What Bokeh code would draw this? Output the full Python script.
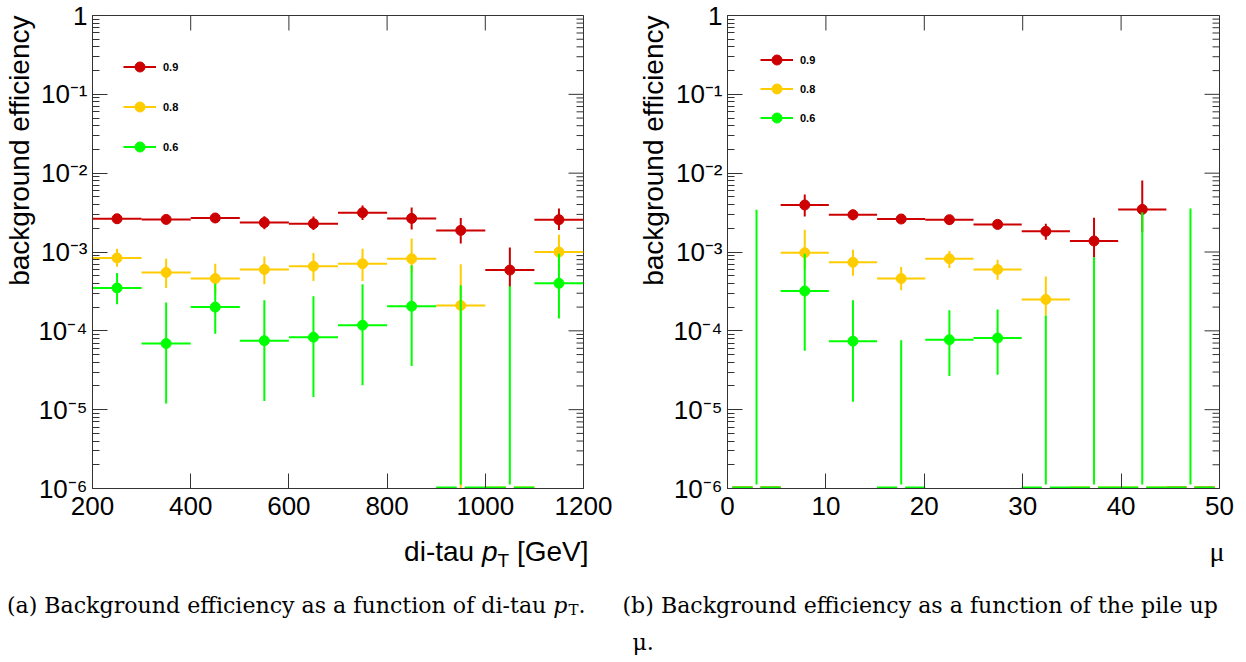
import math
from bokeh.plotting import figure
from bokeh.models import Range1d, FixedTicker, Legend, LegendItem, Title
from bokeh.core.properties import value
from bokeh.layouts import row, column
from bokeh.embed import file_html
from bokeh.resources import INLINE

# ---------------- data ----------------
pt_bin_edges = [200, 300, 400, 500, 600, 700, 800, 900, 1000, 1100, 1200]
mu_bin_edges = [0.5, 5.4, 10.3, 15.2, 20.1, 25.0, 29.9, 34.8, 39.7, 44.6, 49.5]

series_labels = ["0.9", "0.8", "0.6"]
series_colors = ["#cc0000", "#ffcc00", "#00ff00"]

# background efficiency vs di-tau pT (value, lower edge, upper edge of error bar)
eff09_pt = [2.64e-3, 2.59e-3, 2.70e-3, 2.36e-3, 2.29e-3, 3.15e-3, 2.67e-3, 1.88e-3, 5.9e-4, 2.57e-3]
eff09_pt_lo = [2.31e-3, 2.29e-3, 2.33e-3, 1.95e-3, 1.90e-3, 2.55e-3, 1.93e-3, 1.28e-3, 3.6e-4, 1.90e-3]
eff09_pt_hi = [3.02e-3, 2.95e-3, 3.06e-3, 2.85e-3, 2.82e-3, 3.90e-3, 3.66e-3, 2.70e-3, 1.14e-3, 3.56e-3]

eff08_pt = [8.4e-4, 5.5e-4, 4.6e-4, 6.0e-4, 6.6e-4, 7.1e-4, 8.2e-4, 2.1e-4, 0.0, 1.0e-3]
eff08_pt_lo = [6.5e-4, 3.5e-4, 3.0e-4, 3.9e-4, 4.3e-4, 4.3e-4, 5.5e-4, 0.0, 0.0, 6.0e-4]
eff08_pt_hi = [1.10e-3, 8.2e-4, 7.1e-4, 8.8e-4, 9.7e-4, 1.10e-3, 1.48e-3, 7.0e-4, 0.0, 1.66e-3]

eff06_pt = [3.5e-4, 6.9e-5, 2.0e-4, 7.5e-5, 8.3e-5, 1.18e-4, 2.05e-4, 0.0, 0.0, 4.0e-4]
eff06_pt_lo = [2.17e-4, 1.2e-5, 9.2e-5, 1.29e-5, 1.45e-5, 2.04e-5, 3.59e-5, 0.0, 0.0, 1.43e-4]
eff06_pt_hi = [5.4e-4, 2.28e-4, 3.97e-4, 2.44e-4, 2.74e-4, 3.89e-4, 6.78e-4, 3.78e-4, 3.67e-4, 9.5e-4]

# background efficiency vs pile-up mu
eff09_mu = [0.0, 3.95e-3, 2.97e-3, 2.62e-3, 2.57e-3, 2.24e-3, 1.83e-3, 1.38e-3, 3.47e-3, 0.0]
eff09_mu_lo = [0.0, 2.83e-3, 2.52e-3, 2.33e-3, 2.24e-3, 1.97e-3, 1.43e-3, 8.6e-4, 1.8e-3, 0.0]
eff09_mu_hi = [0.0, 5.37e-3, 3.43e-3, 2.91e-3, 2.91e-3, 2.52e-3, 2.28e-3, 2.72e-3, 8.07e-3, 0.0]

eff08_mu = [0.0, 9.8e-4, 7.4e-4, 4.6e-4, 8.2e-4, 6.0e-4, 2.5e-4, 0.0, 0.0, 0.0]
eff08_mu_lo = [0.0, 6.0e-4, 5.0e-4, 3.27e-4, 6.27e-4, 4.46e-4, 1.57e-4, 0.0, 0.0, 0.0]
eff08_mu_hi = [0.0, 1.92e-3, 1.07e-3, 6.46e-4, 1.03e-3, 8.0e-4, 4.9e-4, 0.0, 0.0, 0.0]

eff06_mu = [0.0, 3.2e-4, 7.4e-5, 0.0, 7.7e-5, 8.1e-5, 0.0, 0.0, 0.0, 0.0]
eff06_mu_lo = [0.0, 5.6e-5, 1.26e-5, 0.0, 2.68e-5, 2.78e-5, 0.0, 0.0, 0.0, 0.0]
eff06_mu_hi = [3.44e-3, 9.5e-4, 2.44e-4, 7.6e-5, 1.82e-4, 1.86e-4, 1.57e-4, 8.6e-4, 3.2e-3, 3.55e-3]

y_ticks = [1e-6, 1e-5, 1e-4, 1e-3, 1e-2, 1e-1, 1.0]
y_tick_labels = ["10\u207b\u2076", "10\u207b\u2075", "10\u207b\u2074", "10\u207b\u00b3",
                 "10\u207b\u00b2", "10\u207b\u00b9", "1"]
pt_ticks = [200, 400, 600, 800, 1000, 1200]
mu_ticks = [0, 10, 20, 30, 40, 50]

y_title = "background efficiency"
caption_a_main = "(a) Background efficiency as a function of di-tau"
caption_b_main = "(b) Background efficiency as a function of the pile up"

# ---------------- layout constants (page pixels) ----------------
W_TOTAL = 1246
H = 662
BORDER_TOP = 15
FRAME_H = 473
BORDER_BOTTOM = 40
PLOT_H = BORDER_TOP + FRAME_H + BORDER_BOTTOM
TXT_H = H - PLOT_H
Y_MIN, Y_MAX = 1e-6, 1.0
PX_PER_DECADE = FRAME_H / math.log10(Y_MAX / Y_MIN)
SANS = "Liberation Sans"
SERIF = "DejaVu Serif"
AXIS_COL = "#333333"
MAJOR_LEN, MINOR_LEN = 15, 7
TICK_FS = 26
CAP_FS = 22.1

SANS_W = {'d': .556, 'i': .222, '-': .333, 't': .278, 'a': .556, 'u': .556, ' ': .278,
          'p': .556, 'T': .611, '[': .278, 'G': .778, 'e': .556, 'V': .667, ']': .278}
SERIF_W = {'.': .318, 'T': .668, 'p': .640, ' ': .318}


def tw(text, size, table):
    return sum(table.get(c, 0.55) for c in text) * size


def make_fig(bl, fw, br, x0, x1, x_ticks, title_standoff):
    p = figure(frame_width=fw, frame_height=FRAME_H,
               x_range=Range1d(x0, x1), y_range=Range1d(Y_MIN, Y_MAX),
               y_axis_type="log", output_backend="svg", toolbar_location=None,
               min_border_left=bl, min_border_right=br,
               min_border_top=BORDER_TOP, min_border_bottom=BORDER_BOTTOM)
    p.xgrid.visible = False
    p.ygrid.visible = False
    p.outline_line_color = AXIS_COL
    p.background_fill_color = "white"
    p.border_fill_color = "white"

    y_minor = [k * 10.0 ** e for e in range(-6, 0) for k in range(2, 10)]
    yt = FixedTicker(ticks=y_ticks, minor_ticks=y_minor)
    xt = FixedTicker(ticks=x_ticks, minor_ticks=[])

    for ax in p.yaxis:
        ax.ticker = yt
        ax.major_label_overrides = dict(zip(y_ticks, y_tick_labels))
        ax.major_label_standoff = 5
    for ax in p.xaxis:
        ax.ticker = xt
        ax.major_label_standoff = 8
    for ax in list(p.xaxis) + list(p.yaxis):
        ax.major_tick_in = MAJOR_LEN
        ax.major_tick_out = 0
        ax.minor_tick_in = MINOR_LEN
        ax.minor_tick_out = 0
        ax.axis_line_color = AXIS_COL
        ax.major_tick_line_color = AXIS_COL
        ax.minor_tick_line_color = AXIS_COL
        ax.major_label_text_font = SANS
        ax.major_label_text_font_size = f"{TICK_FS}px"
        ax.major_label_text_color = "black"

    # y-axis title, right-aligned (top) as in ROOT
    p.add_layout(Title(text=y_title, align="right", text_font=SANS, text_font_size="28px",
                       text_font_style="normal", text_color="black",
                       standoff=title_standoff, offset=0), "left")

    # mirrored ticks on the right and top edges of the frame (drawn through the scales)
    dx_per_px = (x1 - x0) / fw
    rx0 = [x1 - MAJOR_LEN * dx_per_px] * len(y_ticks) + [x1 - MINOR_LEN * dx_per_px] * len(y_minor)
    ry = list(y_ticks) + y_minor
    p.segment(x0=rx0, y0=ry, x1=[x1] * len(ry), y1=ry, line_color=AXIS_COL, line_width=1)
    top_y0 = Y_MAX * 10 ** (-MAJOR_LEN / PX_PER_DECADE)
    p.segment(x0=x_ticks, y0=[top_y0] * len(x_ticks), x1=x_ticks, y1=[Y_MAX] * len(x_ticks),
              line_color=AXIS_COL, line_width=1)
    return p


def draw_series(p, fw, edges, vals, lo, hi, color):
    x_gap = 4.0 * (p.x_range.end - p.x_range.start) / fw
    y_gap = 10 ** (4.0 / PX_PER_DECADE)
    y_floor = Y_MIN * 10 ** (1.0 / PX_PER_DECADE)
    centers = [(a + b) / 2.0 for a, b in zip(edges[:-1], edges[1:])]
    hx0, hx1, hy = [], [], []
    for e0, e1, c, v in zip(edges[:-1], edges[1:], centers, vals):
        y = max(v, y_floor)
        hx0 += [e0, c + x_gap]
        hx1 += [c - x_gap, e1]
        hy += [y, y]
    hr = p.segment(x0=hx0, y0=hy, x1=hx1, y1=hy, line_color=color, line_width=2)
    vx, vy0, vy1 = [], [], []
    for c, v, l, h in zip(centers, vals, lo, hi):
        if h <= Y_MIN:
            continue
        vx.append(c)
        vy0.append(max(l, Y_MIN * y_gap) if v <= 0 else max(l, Y_MIN))
        vy1.append(h)
    p.segment(x0=vx, y0=vy0, x1=vx, y1=vy1, line_color=color, line_width=2)
    mx = [c for c, v in zip(centers, vals) if v > 0]
    my = [v for v in vals if v > 0]
    mr = p.scatter(x=mx, y=my, size=10, fill_color=color, line_color=color, marker="circle")
    return hr, mr


def add_legend(p, items, loc, spacing):
    leg = Legend(items=items, location=loc, glyph_width=33, glyph_height=25,
                 label_height=25, label_standoff=7, spacing=spacing, padding=0, margin=0,
                 border_line_color=None, background_fill_alpha=0,
                 label_text_font=SANS, label_text_font_size="11px",
                 label_text_font_style="bold", label_text_color="black")
    p.add_layout(leg)


# ---------------- left panel: vs di-tau pT ----------------
L_BL, L_FW, L_BR = 92, 491, 37
left = make_fig(L_BL, L_FW, L_BR, pt_bin_edges[0], pt_bin_edges[-1], pt_ticks, 2)
pt_series = [(eff09_pt, eff09_pt_lo, eff09_pt_hi),
             (eff08_pt, eff08_pt_lo, eff08_pt_hi),
             (eff06_pt, eff06_pt_lo, eff06_pt_hi)]
items = []
for (v, l, h), lab, col in zip(pt_series, series_labels, series_colors):
    hr, mr = draw_series(left, L_FW, pt_bin_edges, v, l, h, col)
    items.append(LegendItem(label=lab, renderers=[hr, mr]))
add_legend(left, items, (31, 329), 15)

# ---------------- right panel: vs mu ----------------
R_BL, R_FW, R_BR = 107, 492, 27
right = make_fig(R_BL, R_FW, R_BR, 0, 50, mu_ticks, 3)
mu_series = [(eff09_mu, eff09_mu_lo, eff09_mu_hi),
             (eff08_mu, eff08_mu_lo, eff08_mu_hi),
             (eff06_mu, eff06_mu_lo, eff06_mu_hi)]
items = []
for (v, l, h), lab, col in zip(mu_series, series_labels, series_colors):
    hr, mr = draw_series(right, R_FW, mu_bin_edges, v, l, h, col)
    items.append(LegendItem(label=lab, renderers=[hr, mr]))
add_legend(right, items, (33, 358), 4)

# ---------------- text strip: axis titles and captions ----------------
tf = figure(frame_width=W_TOTAL, frame_height=TXT_H, x_range=Range1d(0, W_TOTAL),
            y_range=Range1d(0, TXT_H), output_backend="svg", toolbar_location=None,
            min_border=0, x_axis_location=None, y_axis_location=None)
tf.xgrid.visible = False
tf.ygrid.visible = False
tf.outline_line_color = None
tf.background_fill_color = "white"
tf.border_fill_color = "white"


def txt(cx, cy, text, size, font=SANS, style="normal", align="left"):
    tf.text(x=[cx], y=[TXT_H - (cy - PLOT_H)], text=[text], text_font=value(font),
            text_font_size=value(f"{size}px"), text_font_style=style, text_align=align,
            text_baseline="middle", text_color="black")


# x title of (a): di-tau p_T [GeV], right-aligned near the frame edge
xe = L_BL + L_FW + 5
txt(xe, 551, "[GeV]", 28, align="right")
xe -= tw("[GeV]", 28, SANS_W) + tw(" ", 28, SANS_W)
txt(xe, 560, "T", 19, align="right")
xe -= tw("T", 19, SANS_W)
txt(xe, 551, "p", 28, style="italic", align="right")
xe -= tw("p", 28, SANS_W) + tw(" ", 28, SANS_W)
txt(xe, 551, "di-tau", 28, align="right")

# x title of (b)
RX0 = L_BL + L_FW + L_BR
txt(RX0 + R_BL + R_FW + 5, 551, "\u03bc", 28, font="Liberation Serif", align="right")

# caption (a)
ce = 585
txt(ce, 604, ".", CAP_FS, font=SERIF, align="right")
ce -= tw(".", CAP_FS, SERIF_W)
txt(ce, 609, "T", 15, font=SERIF, align="right")
ce -= tw("T", 15, SERIF_W) + 1
txt(ce, 604, "p", CAP_FS, font=SERIF, style="italic", align="right")
ce -= tw("p", CAP_FS, SERIF_W) + tw(" ", CAP_FS, SERIF_W)
txt(ce, 604, caption_a_main, CAP_FS, font=SERIF, align="right")

# caption (b)
txt(622, 604, caption_b_main, CAP_FS, font=SERIF)
txt(632, 641, "\u03bc.", CAP_FS, font=SERIF)

layout = column(row(left, right, spacing=0), tf, spacing=0)
open("out.html", "w").write(file_html(layout, INLINE))
